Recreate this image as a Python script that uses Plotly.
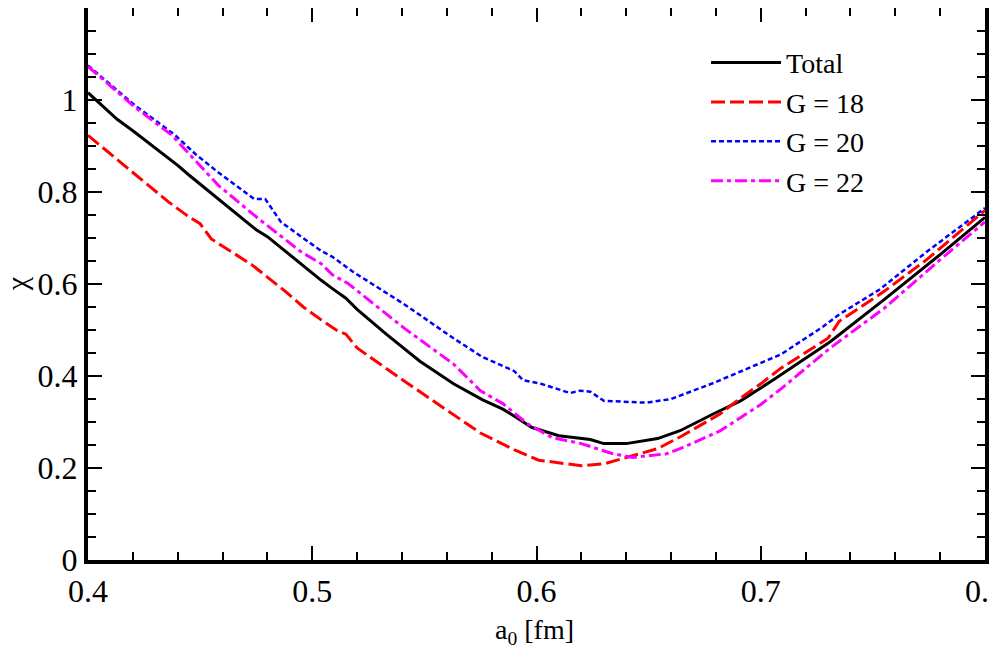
import plotly.graph_objects as go

# chi vs a0
x_total = [0.400, 0.413, 0.420, 0.434, 0.440, 0.445, 0.450, 0.460, 0.475, 0.480, 0.487, 0.497,
           0.504, 0.509, 0.515, 0.520, 0.533, 0.548, 0.563, 0.576, 0.585, 0.590, 0.598, 0.610,
           0.624, 0.630, 0.640, 0.654, 0.664, 0.679, 0.691, 0.700, 0.706, 0.730, 0.733, 0.755,
           0.780, 0.800]
y_total = [1.016, 0.958, 0.933, 0.880, 0.858, 0.837, 0.817, 0.778, 0.718, 0.703, 0.675, 0.634,
           0.608, 0.590, 0.569, 0.545, 0.491, 0.432, 0.383, 0.348, 0.328, 0.313, 0.288, 0.270,
           0.262, 0.253, 0.253, 0.264, 0.281, 0.318, 0.346, 0.374, 0.393, 0.471, 0.482, 0.566,
           0.664, 0.745]

x_g18 = [0.400, 0.413, 0.436, 0.445, 0.450, 0.455, 0.473, 0.488, 0.496, 0.504, 0.511, 0.515,
         0.520, 0.541, 0.567, 0.575, 0.590, 0.601, 0.612, 0.620, 0.630, 0.639, 0.654, 0.665,
         0.682, 0.691, 0.700, 0.709, 0.730, 0.735, 0.755, 0.774, 0.800]
y_g18 = [0.923, 0.871, 0.778, 0.746, 0.731, 0.698, 0.642, 0.584, 0.550, 0.522, 0.499, 0.491,
         0.461, 0.389, 0.303, 0.276, 0.240, 0.217, 0.210, 0.205, 0.209, 0.221, 0.242, 0.270,
         0.318, 0.352, 0.383, 0.417, 0.482, 0.519, 0.584, 0.653, 0.760]

x_g20 = [0.400, 0.421, 0.439, 0.448, 0.458, 0.474, 0.479, 0.486, 0.495, 0.504, 0.509, 0.518,
         0.541, 0.563, 0.576, 0.590, 0.594, 0.602, 0.615, 0.619, 0.624, 0.630, 0.649, 0.660,
         0.679, 0.700, 0.709, 0.728, 0.735, 0.753, 0.774, 0.800]
y_g20 = [1.075, 0.988, 0.923, 0.882, 0.843, 0.785, 0.785, 0.735, 0.703, 0.672, 0.659, 0.627,
         0.556, 0.482, 0.441, 0.411, 0.391, 0.383, 0.363, 0.368, 0.366, 0.346, 0.342, 0.350,
         0.385, 0.428, 0.447, 0.508, 0.534, 0.588, 0.670, 0.765]

x_g22 = [0.400, 0.421, 0.4375, 0.458, 0.476, 0.495, 0.504, 0.509, 0.516, 0.541, 0.563, 0.575,
         0.585, 0.596, 0.607, 0.615, 0.620, 0.634, 0.643, 0.658, 0.664, 0.682, 0.691, 0.700,
         0.709, 0.731, 0.755, 0.780, 0.800]
y_g22 = [1.073, 0.984, 0.923, 0.815, 0.742, 0.670, 0.644, 0.620, 0.601, 0.504, 0.426, 0.368,
         0.340, 0.296, 0.266, 0.259, 0.253, 0.231, 0.223, 0.231, 0.242, 0.281, 0.309, 0.338,
         0.372, 0.461, 0.547, 0.653, 0.735]

x_ticks = [0.4, 0.5, 0.6, 0.7, 0.8]
x_ticklabels = ["0.4", "0.5", "0.6", "0.7", "0.8"]
y_ticks = [0, 0.2, 0.4, 0.6, 0.8, 1.0, 1.2]
y_ticklabels = ["0", "0.2", "0.4", "0.6", "0.8", "1", "1.2"]

fnt = "Liberation Serif, Times New Roman, serif"

fig = go.Figure()
fig.add_trace(go.Scatter(x=x_total, y=y_total, mode="lines", name="Total",
                         line=dict(color="black", width=3)))
fig.add_trace(go.Scatter(x=x_g18, y=y_g18, mode="lines", name="G = 18",
                         line=dict(color="#ff0000", width=3, dash="14px,5px")))
fig.add_trace(go.Scatter(x=x_g20, y=y_g20, mode="lines", name="G = 20",
                         line=dict(color="#0000ff", width=2.5, dash="5px,3px")))
fig.add_trace(go.Scatter(x=x_g22, y=y_g22, mode="lines", name="G = 22",
                         line=dict(color="#ff00ff", width=3, dash="12px,4px,4px,4px")))

axis_common = dict(
    showgrid=False, zeroline=False, automargin=False,
    showline=True, linecolor="black", linewidth=4, mirror="allticks",
    ticks="inside", ticklen=14, tickwidth=1.5, tickcolor="black",
    tickfont=dict(family=fnt, size=32, color="black"),
)

fig.update_xaxes(range=[0.4, 0.8], tickmode="array", tickvals=x_ticks, ticktext=x_ticklabels,
                 minor=dict(dtick=0.02, tick0=0.4, ticks="inside", ticklen=8, tickwidth=1.5,
                            tickcolor="black"),
                 **axis_common)
fig.update_yaxes(range=[0, 1.2], tickmode="array", tickvals=y_ticks, ticktext=y_ticklabels,
                 minor=dict(dtick=0.05, tick0=0, ticks="inside", ticklen=8, tickwidth=1.5,
                            tickcolor="black"),
                 **axis_common)

# axis titles
fig.add_annotation(text="a<sub>0</sub> [fm]", xref="paper", yref="paper", x=0.498, y=-0.13,
                   xanchor="center", yanchor="middle",
                   showarrow=False, font=dict(family=fnt, size=28, color="black"))
fig.add_annotation(text="χ", xref="paper", yref="paper", x=-0.08, y=0.50,
                   xanchor="center", yanchor="middle",
                   showarrow=False, textangle=-90, font=dict(family=fnt, size=30, color="black"))

fig.update_layout(
    width=997, height=650,
    margin=dict(l=80, r=20, t=0, b=98),
    plot_bgcolor="white", paper_bgcolor="white",
    font=dict(family=fnt, color="black"),
    legend=dict(x=0.689, y=0.946, xanchor="left", yanchor="top",
                font=dict(family=fnt, size=28, color="black"),
                bgcolor="rgba(0,0,0,0)", itemwidth=70, tracegroupgap=0),
)

fig.write_html("out.html")
